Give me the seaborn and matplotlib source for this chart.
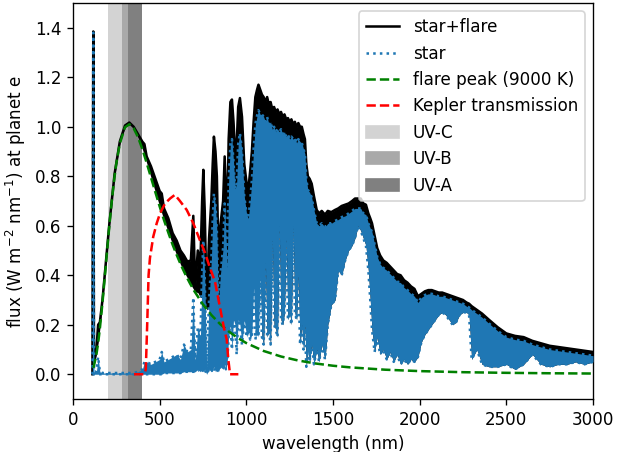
import numpy as np
import matplotlib
matplotlib.use("Agg")
import matplotlib.pyplot as plt
import seaborn as sns
from matplotlib.lines import Line2D
from matplotlib.patches import Patch

# UV part (incl. Lyman-alpha spike)
wl_uv = [112, 117, 121, 135, 145, 155, 170, 190, 210, 240, 270, 300, 325, 350, 375, 400, 412]
star_lo_uv = [0, 0, 0, 0, 0, 0, 0, 0, 0, 0, 0, 0, 0, 0, 0, 0, 0]
star_hi_uv = [0.0, 1.38, 0.01, 0.01, 0.07, 0.01, 0.005, 0.005, 0.005, 0.005, 0.005, 0.005, 0.005, 0.005, 0.01, 0.02, 0.05]
tot_lo_uv = [0.0, 0.026, 0.035, 0.08, 0.126, 0.185, 0.289, 0.445, 0.603, 0.80, 0.932, 0.998, 1.01, 0.994, 0.958, 0.91, 0.884]
tot_hi_uv = [0.0, 1.385, 0.05, 0.10, 0.20, 0.21, 0.30, 0.455, 0.61, 0.81, 0.94, 1.005, 1.017, 1.0, 0.97, 0.94, 0.93]

# visible
wl_vis = [425, 450, 475, 500, 512, 525, 550, 575, 598, 620, 640, 660, 680, 694, 705]
star_lo_vis = [0.0, 0.0, 0.0, 0.0, 0.0, 0.005, 0.005, 0.005, 0.005, 0.005, 0.01, 0.01, 0.01, 0.01, 0.01]
star_hi_vis = [0.05, 0.04, 0.05, 0.06, 0.09, 0.05, 0.06, 0.07, 0.08, 0.06, 0.12, 0.09, 0.10, 0.31, 0.05]
tot_lo_vis = [0.854, 0.795, 0.736, 0.678, 0.651, 0.623, 0.572, 0.523, 0.481, 0.444, 0.414, 0.389, 0.362, 0.345, 0.333]
tot_hi_vis = [0.88, 0.84, 0.79, 0.74, 0.73, 0.67, 0.63, 0.57, 0.54, 0.50, 0.48, 0.455, 0.46, 0.64, 0.35]

# molecular bands, 720-1080 nm
wl_nir = [720, 735, 745, 752, 760, 771, 785, 798, 806, 813, 822, 830, 839, 850, 866, 875, 882, 890, 898,
          908, 917, 926, 935, 944, 953, 963, 975, 988, 1002, 1012, 1022, 1032, 1042, 1052, 1062, 1070, 1080]
star_lo_nir = [0.02, 0.01, 0.02, 0.01, 0.02, 0.0, 0.02, 0.01, 0.02, 0.03, 0.01, 0.02, 0.01, 0.03, 0.02, 0.04, 0.02, 0.05, 0.15,
               0.20, 0.10, 0.22, 0.20, 0.08, 0.22, 0.20, 0.12, 0.22, 0.15, 0.18, 0.14, 0.16, 0.35, 0.14, 0.18, 0.15, 0.40]
star_hi_nir = [0.19, 0.15, 0.41, 0.54, 0.39, 0.03, 0.30, 0.46, 0.62, 0.73, 0.68, 0.58, 0.27, 0.40, 0.51, 0.69, 0.57, 0.43, 0.78,
               0.93, 0.95, 0.86, 0.75, 0.77, 0.93, 0.975, 0.90, 0.72, 0.645, 0.63, 0.70, 0.785, 0.91, 1.01, 1.045, 1.067, 1.05]
tot_lo_nir = [0.33, 0.31, 0.31, 0.29, 0.29, 0.26, 0.27, 0.25, 0.25, 0.26, 0.23, 0.23, 0.22, 0.23, 0.21, 0.23, 0.20, 0.23, 0.32,
              0.37, 0.26, 0.38, 0.35, 0.23, 0.37, 0.34, 0.26, 0.35, 0.28, 0.30, 0.26, 0.28, 0.46, 0.25, 0.29, 0.25, 0.50]
tot_hi_nir = [0.50, 0.45, 0.70, 0.826, 0.66, 0.29, 0.55, 0.70, 0.85, 0.96, 0.90, 0.80, 0.475, 0.60, 0.70, 0.88, 0.75, 0.61, 0.95,
              1.10, 1.11, 1.02, 0.90, 0.92, 1.08, 1.116, 1.04, 0.85, 0.77, 0.75, 0.82, 0.90, 1.02, 1.12, 1.15, 1.17, 1.15]

# 1090-1330 nm
wl_j = [1090, 1100, 1110, 1120, 1130, 1140, 1150, 1160, 1170, 1180, 1190, 1200, 1210, 1220, 1230, 1240, 1250,
        1260, 1270, 1280, 1290, 1300, 1310, 1320, 1330]
star_lo_j = [0.15, 0.12, 0.45, 0.15, 0.18, 0.12, 0.55, 0.20, 0.18, 0.15, 0.60, 0.22, 0.20, 0.25, 0.55, 0.22, 0.25,
             0.20, 0.60, 0.25, 0.22, 0.40, 0.12, 0.20, 0.10]
star_hi_j = [1.05, 1.04, 1.02, 1.04, 1.01, 1.02, 0.99, 1.0, 0.98, 0.99, 0.98, 0.99, 0.97, 0.98, 0.96, 0.97, 0.95,
             0.96, 0.95, 0.955, 0.935, 0.95, 0.94, 0.935, 0.91]
tot_hi_j = [1.13, 1.12, 1.10, 1.12, 1.09, 1.10, 1.07, 1.08, 1.06, 1.07, 1.05, 1.06, 1.04, 1.05, 1.03, 1.035, 1.02,
            1.03, 1.01, 1.02, 1.00, 1.015, 1.0, 1.0, 0.97]

# 1338-1772 nm
wl_k = [1338, 1346, 1355, 1365, 1377, 1390, 1406, 1420, 1435, 1454, 1470, 1490, 1512, 1530, 1550, 1570, 1590,
        1610, 1627, 1645, 1660, 1675, 1690, 1704, 1715, 1725, 1740, 1755, 1772]
star_lo_k = [0.20, 0.03, 0.10, 0.05, 0.12, 0.04, 0.10, 0.05, 0.12, 0.06, 0.20, 0.28, 0.30, 0.42, 0.40, 0.46, 0.50,
             0.52, 0.55, 0.60, 0.58, 0.55, 0.52, 0.42, 0.30, 0.18, 0.09, 0.15, 0.08]
star_hi_k = [0.89, 0.79, 0.745, 0.735, 0.715, 0.665, 0.61, 0.60, 0.61, 0.595, 0.61, 0.61, 0.62, 0.625, 0.635, 0.64, 0.65,
             0.66, 0.67, 0.67, 0.67, 0.65, 0.645, 0.61, 0.59, 0.575, 0.525, 0.475, 0.445]
tot_hi_k = [0.95, 0.85, 0.80, 0.79, 0.77, 0.72, 0.664, 0.65, 0.66, 0.645, 0.66, 0.655, 0.664, 0.67, 0.68, 0.685, 0.69,
            0.70, 0.71, 0.71, 0.71, 0.69, 0.685, 0.65, 0.63, 0.61, 0.56, 0.51, 0.48]

# 1790-3000 nm
wl_m = [1790, 1810, 1830, 1850, 1870, 1890, 1910, 1930, 1950, 1970, 1990,
        2010, 2030, 2050, 2070, 2090, 2110, 2130, 2150, 2170, 2190, 2210, 2230, 2250, 2270,
        2285, 2300, 2330, 2360, 2400,
        2450, 2500, 2550, 2600, 2650, 2700, 2750, 2800, 2850, 2900, 2950, 3000]
star_lo_m = [0.10, 0.06, 0.09, 0.05, 0.08, 0.04, 0.06, 0.04, 0.06, 0.05, 0.07,
             0.13, 0.16, 0.18, 0.20, 0.22, 0.24, 0.25, 0.24, 0.22, 0.20, 0.21, 0.24, 0.25, 0.25,
             0.24, 0.06, 0.10, 0.04, 0.03,
             0.03, 0.04, 0.02, 0.04, 0.08, 0.04, 0.03, 0.04, 0.04, 0.05, 0.04, 0.05]
star_hi_m = [0.43, 0.42, 0.405, 0.39, 0.375, 0.37, 0.35, 0.34, 0.325, 0.315, 0.29,
             0.31, 0.32, 0.325, 0.325, 0.32, 0.315, 0.315, 0.31, 0.305, 0.30, 0.295, 0.29, 0.285, 0.275,
             0.27, 0.26, 0.245, 0.23, 0.205,
             0.175, 0.15, 0.14, 0.135, 0.12, 0.11, 0.10, 0.095, 0.09, 0.085, 0.08, 0.075]
tot_hi_m = [0.46, 0.45, 0.435, 0.42, 0.405, 0.40, 0.38, 0.37, 0.355, 0.345, 0.315,
            0.325, 0.335, 0.34, 0.34, 0.335, 0.33, 0.33, 0.325, 0.32, 0.315, 0.31, 0.305, 0.30, 0.29,
            0.285, 0.275, 0.26, 0.245, 0.22,
            0.19, 0.165, 0.155, 0.15, 0.135, 0.125, 0.115, 0.11, 0.105, 0.10, 0.095, 0.09]

# --- 9000 K flare peak ---
flare_wl = [117, 121, 135, 145, 155, 170, 190, 210, 225, 240, 250, 270, 300, 325, 350, 375, 400, 425, 450, 475,
            500, 525, 550, 575, 600, 625, 650, 675, 700, 750, 800, 850, 900, 950, 1000, 1100, 1200, 1300, 1400, 1500,
            1600, 1800, 2000, 2250, 2500, 2750, 3000]
flare_val = [0.026, 0.035, 0.080, 0.126, 0.185, 0.289, 0.445, 0.603, 0.708, 0.80, 0.852, 0.932, 0.998, 1.01, 0.994,
             0.958, 0.910, 0.854, 0.795, 0.736, 0.678, 0.623, 0.572, 0.523, 0.479, 0.438, 0.401, 0.367, 0.336, 0.282,
             0.238, 0.202, 0.172, 0.147, 0.126, 0.094, 0.0717, 0.0554, 0.0434, 0.0344, 0.0277, 0.0184, 0.0127,
             0.0083, 0.0057, 0.004, 0.0029]

# --- Kepler bandpass ---
kep_wl = [352, 412, 420, 428, 436, 444, 463, 483, 502, 531, 560, 588, 617, 656, 694, 733, 762, 790, 819, 848,
          870, 887, 896, 906, 954]
kep_val = [0, 0, 0.02, 0.2, 0.4, 0.47, 0.556, 0.61, 0.65, 0.69, 0.71, 0.725, 0.70, 0.664, 0.61, 0.54, 0.49, 0.43,
           0.375, 0.27, 0.19, 0.14, 0.06, 0.0, 0.0]

wl = np.array(wl_uv + wl_vis + wl_nir + wl_j + wl_k + wl_m, dtype=float)
star_lo = np.array(star_lo_uv + star_lo_vis + star_lo_nir + star_lo_j + star_lo_k + star_lo_m)
star_hi = np.array(star_hi_uv + star_hi_vis + star_hi_nir + star_hi_j + star_hi_k + star_hi_m)
tot_lo = np.array(tot_lo_uv + tot_lo_vis + tot_lo_nir + star_lo_j + star_lo_k + star_lo_m)
tot_hi = np.array(tot_hi_uv + tot_hi_vis + tot_hi_nir + tot_hi_j + tot_hi_k + tot_hi_m)

DPI = 121
fig, ax = plt.subplots(figsize=(634 / DPI, 452 / DPI), dpi=DPI)
fig.subplots_adjust(left=73 / 634, right=593 / 634, bottom=1 - 399 / 452, top=1 - 3 / 452)

ax.axvspan(200, 280, color='lightgray', lw=0, zorder=0)
ax.axvspan(280, 315, color='darkgray', lw=0, zorder=0)
ax.axvspan(315, 400, color='gray', lw=0, zorder=0)

# star+flare
ax.fill_between(wl, tot_lo, tot_hi, color='k', lw=0, zorder=1)
sns.lineplot(x=wl, y=tot_hi, color='k', lw=1.5, ax=ax, estimator=None, sort=False, zorder=2)
# star
ax.fill_between(wl, star_lo, star_hi, color='C0', lw=0, zorder=3)
sns.lineplot(x=wl, y=star_hi, color='C0', linestyle=':', lw=1.5, ax=ax, estimator=None, sort=False, zorder=4)
sns.lineplot(x=wl, y=star_lo, color='C0', linestyle=':', lw=1.5, ax=ax, estimator=None, sort=False, zorder=4)
# flare and Kepler
sns.lineplot(x=flare_wl, y=flare_val, color='g', linestyle='--', lw=1.5, ax=ax, estimator=None, sort=False, zorder=5)
sns.lineplot(x=kep_wl, y=kep_val, color='r', linestyle='--', lw=1.5, ax=ax, estimator=None, sort=False, zorder=5)

handles = [
    Line2D([], [], color='k', lw=1.5, label='star+flare'),
    Line2D([], [], color='C0', lw=1.5, linestyle=':', label='star'),
    Line2D([], [], color='g', lw=1.5, linestyle='--', label='flare peak (9000 K)'),
    Line2D([], [], color='r', lw=1.5, linestyle='--', label='Kepler transmission'),
    Patch(color='lightgray', label='UV-C'),
    Patch(color='darkgray', label='UV-B'),
    Patch(color='gray', label='UV-A'),
]
ax.legend(handles=handles, loc='upper right')

ax.set_xlim(0, 3000)
ax.set_ylim(-0.1, 1.5)
ax.set_xlabel('wavelength (nm)')
ax.set_ylabel('flux (W m$^{-2}$ nm$^{-1}$) at planet e')

fig.savefig('out.png', dpi=DPI)
